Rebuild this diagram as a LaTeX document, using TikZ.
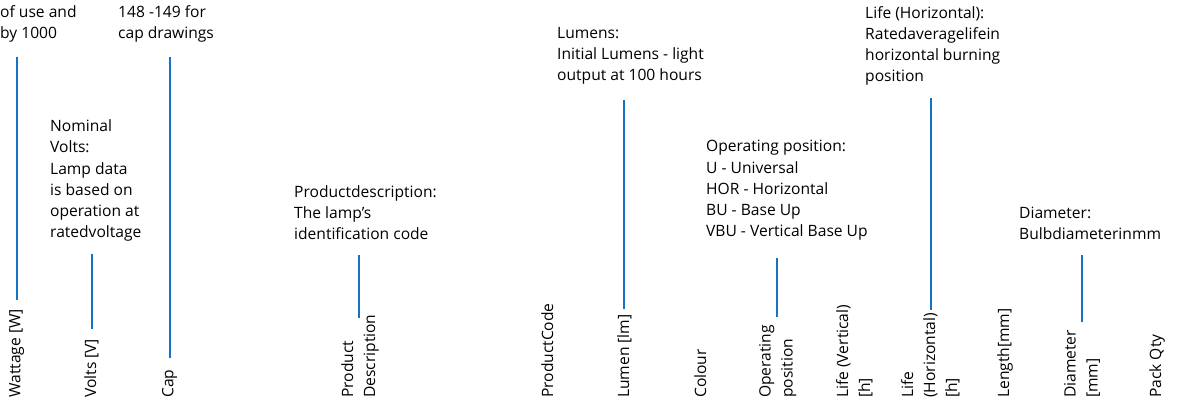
\documentclass[tikz,border=0pt]{standalone}
\usepackage{fontspec}
\setmainfont{Open Sans}
\definecolor{leadblue}{RGB}{20,115,195}
\tikzset{
  desc/.style={anchor=base west, inner sep=0, align=left, font=\fontsize{15.6}{21.3}\selectfont},
  lbl/.style={rotate=90, anchor=north west, inner sep=0, align=left, font=\fontsize{15.6}{22}\selectfont},
  lead/.style={leadblue, line width=1.1pt}
}
\begin{document}
\begin{tikzpicture}[x=1pt, y=-1pt]
\useasboundingbox (0,0) rectangle (1183,403);

% column headings
\node[lbl] (watt) at (9,398) {Wattage [W]};
\node[lbl] (volt) at (84,398) {Volts [V]};
\node[lbl] (cap) at (162,398) {Cap};
\node[lbl] (prod) at (341,398) {Product\\Description};
\node[lbl] (code) at (541,398) {ProductCode};
\node[lbl] (lumen) at (617,398) {Lumen [lm]};
\node[lbl] (colour) at (694,398) {Colour};
\node[lbl] (oper) at (759,398) {Operating\\position};
\node[lbl] (lifev) at (836,398) {Life (Vertical)\\{}[h]};
\node[lbl] (lifeh) at (901,398) {Life\\(Horizontal)\\{}[h]};
\node[lbl] (length) at (997,398) {Length[mm]};
\node[lbl] (diam) at (1064,398) {Diameter\\{}[mm]};
\node[lbl] (pack) at (1149,398) {Pack Qty};

% explanations (anchored at the baseline of the last line)
\node[desc] (watttxt) at (0,39) {of use and\\by 1000};
\node[desc] (captxt) at (118,39) {148 -149 for\\cap drawings};
\node[desc] (volttxt) at (50,238) {Nominal\\Volts:\\Lamp data\\is based on\\operation at\\ratedvoltage};
\node[desc] (prodtxt) at (294,240) {Productdescription:\\The lamp's\\identification code};
\node[desc] (lumentxt) at (557,81) {Lumens:\\Initial Lumens - light\\output at 100 hours};
\node[desc] (opertxt) at (706,237) {Operating position:\\U - Universal\\HOR - Horizontal\\BU - Base Up\\VBU - Vertical Base Up};
\node[desc] (lifehtxt) at (865,82) {Life (Horizontal):\\Ratedaveragelifein\\horizontal burning\\position};
\node[desc] (diamtxt) at (1019,240) {Diameter:\\Bulbdiameterinmm};

% leader lines
\coordinate (w1) at (17,57);   \coordinate (w2) at (17,300);
\coordinate (v1) at (92,254);  \coordinate (v2) at (92,329);
\coordinate (c1) at (170,57);  \coordinate (c2) at (170,358);
\coordinate (p1) at (359,255); \coordinate (p2) at (359,318);
\coordinate (l1) at (624,100); \coordinate (l2) at (624,309);
\coordinate (o1) at (777,258); \coordinate (o2) at (777,317);
\coordinate (h1) at (931,98);  \coordinate (h2) at (931,310);
\coordinate (d1) at (1082,255); \coordinate (d2) at (1082,322);
\draw[lead] (w1) -- (w2);
\draw[lead] (v1) -- (v2);
\draw[lead] (c1) -- (c2);
\draw[lead] (p1) -- (p2);
\draw[lead] (l1) -- (l2);
\draw[lead] (o1) -- (o2);
\draw[lead] (h1) -- (h2);
\draw[lead] (d1) -- (d2);
\end{tikzpicture}
\end{document}
